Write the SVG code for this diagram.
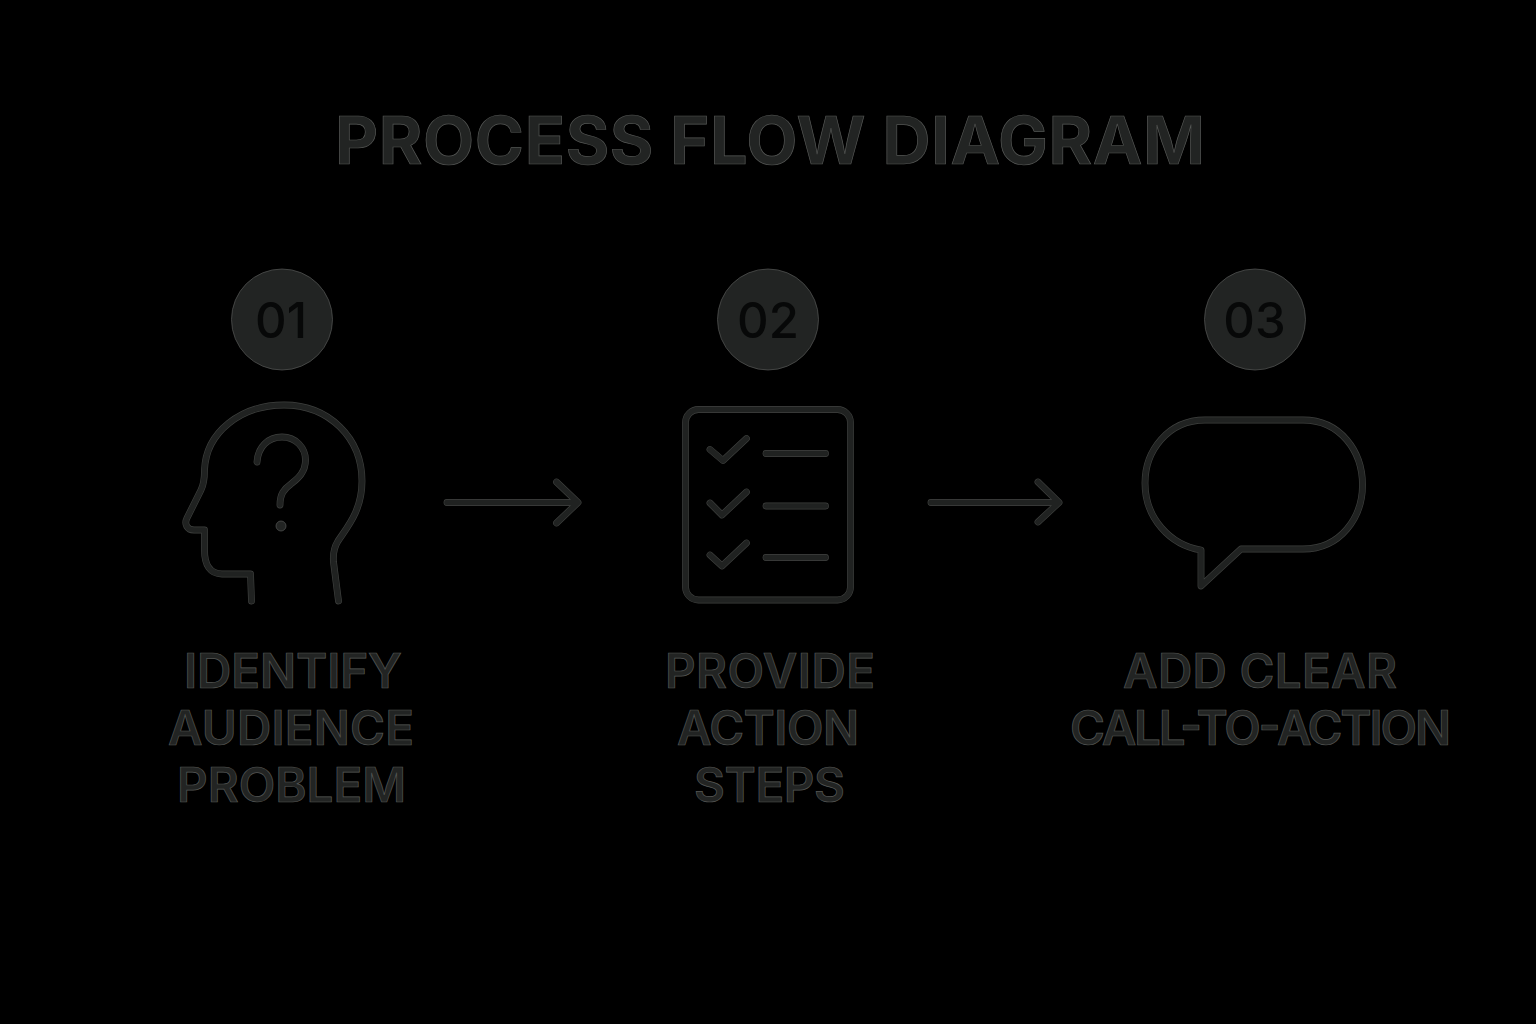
<svg xmlns="http://www.w3.org/2000/svg" width="1536" height="1024" viewBox="0 0 1536 1024">
<defs>
<style>
text{font-family:Inter,"Liberation Sans",sans-serif;text-anchor:middle;fill:#222423;stroke:#565856;stroke-width:.7}
.t{font-size:66.500px;font-weight:700}
.l{font-size:47.500px;font-weight:600}
.n{font-size:49px;font-weight:500;fill:#070808;stroke:none}
.c{fill:#222423;stroke:#565856;stroke-width:.7}
.o{fill:none;stroke:#3f413f;stroke-width:6.800;stroke-linecap:round;stroke-linejoin:round}
.i{fill:none;stroke:#202221;stroke-width:5.600;stroke-linecap:round;stroke-linejoin:round}
</style>
<path id="head" d="M251.500 601L250.500 574H222C210 574 204.500 565 204.500 550V530H194C187 530 184 524 187 518L201 490C204 484 204.500 478 204.500 470C206 432 241 405 284 405C329 405 362 438 362 481C362 510 348 526 338 541C333 549 333 556 333.500 562L338.500 601"/>
<path id="qm" d="M257 462C258 447 268 437 282 437C296 437 305.500 448 305.500 460C305.500 473 297 479 291 484C284 489 280 494 280 505"/>
<rect id="sheet" x="685.500" y="409.500" width="165" height="190.500" rx="13"/>
<path id="checks" d="M710 449.500L723 460.500L746.500 438.500M710 503L722 515L746.500 492M710 555L722 566L746.500 543"/>
<path id="lines" d="M766 453.500H825.500M766 506H825.500M766 557.500H825.500"/>
<path id="bubble" d="M1201 550V586L1241 549H1303C1341 549 1362.500 517 1362.500 485C1362.500 451 1340 420 1303 420H1205C1168 420 1145 451 1145 483C1145 518 1170 545 1201 550Z"/>
<path id="a1" d="M447 502.500H577M556.500 482L578 502.500L556.500 523"/>
<path id="a2" d="M931 502.500H1058M1038 482L1059 502.500L1038 522"/>
</defs>
<rect width="1536" height="1024" fill="#000"/>
<text class="t" x="770" y="163.500" textLength="870">PROCESS FLOW DIAGRAM</text>
<g id="connectors">
<use href="#a1" class="o"/><use href="#a1" class="i"/>
<use href="#a2" class="o"/><use href="#a2" class="i"/>
</g>
<g id="step-1">
<circle class="c" cx="282" cy="319.500" r="50.500"/>
<text class="n" x="281" y="337.500">01</text>
<use href="#head" class="o"/><use href="#head" class="i"/>
<use href="#qm" class="o"/><use href="#qm" class="i"/>
<circle class="c" cx="281" cy="526" r="5"/>
<text class="l" x="293" y="687.500" textLength="218">IDENTIFY</text>
<text class="l" x="291" y="744.500" textLength="246">AUDIENCE</text>
<text class="l" x="291.500" y="801.500" textLength="229">PROBLEM</text>
</g>
<g id="step-2">
<circle class="c" cx="768" cy="319.500" r="50.500"/>
<text class="n" x="768" y="337.500">02</text>
<use href="#sheet" class="o"/><use href="#sheet" class="i"/>
<use href="#checks" class="o"/><use href="#checks" class="i"/>
<use href="#lines" class="o"/><use href="#lines" class="i"/>
<text class="l" x="770" y="687.500" textLength="210">PROVIDE</text>
<text class="l" x="768" y="744.500" textLength="182">ACTION</text>
<text class="l" x="769.500" y="801.500" textLength="151">STEPS</text>
</g>
<g id="step-3">
<circle class="c" cx="1255" cy="319.500" r="50.500"/>
<text class="n" x="1254.500" y="337.500">03</text>
<use href="#bubble" class="o"/><use href="#bubble" class="i"/>
<text class="l" x="1260" y="687.500" textLength="274">ADD CLEAR</text>
<text class="l" x="1260.500" y="744.500" textLength="381">CALL-TO-ACTION</text>
</g>
</svg>
